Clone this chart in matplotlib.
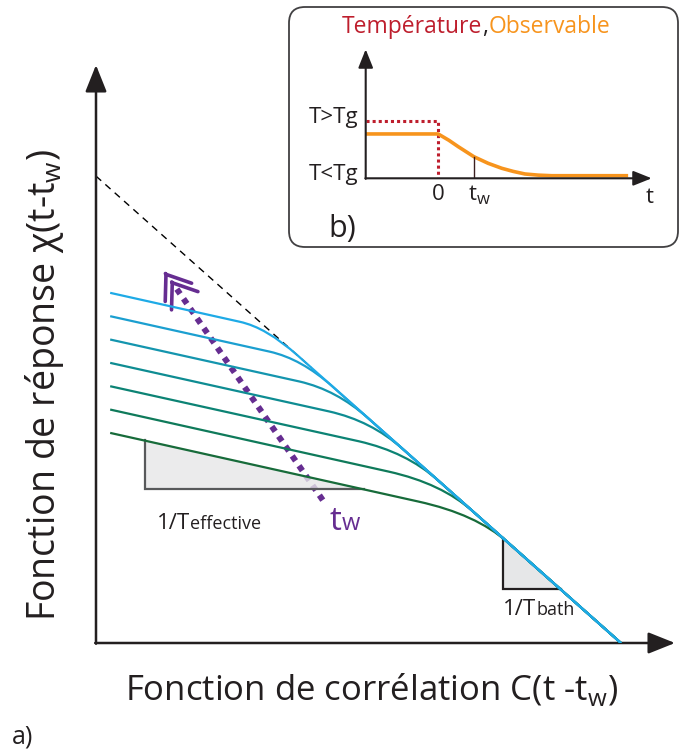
import matplotlib
matplotlib.use("Agg")
import matplotlib.pyplot as plt
from matplotlib.path import Path
from matplotlib.patches import PathPatch, Polygon, FancyBboxPatch

plt.rcParams['font.family'] = ['Open Sans', 'DejaVu Sans']
plt.rcParams['mathtext.fontset'] = 'custom'
plt.rcParams['mathtext.rm'] = 'Open Sans'

# --- main panel data (C on x, chi on y) ---
# each curve: start, knee in, corner, knee out, end
curves = [
    [(0.027, 0.75), (0.274, 0.688), (0.324, 0.676), (0.384, 0.616), (1.0, 0.0)],
    [(0.027, 0.70), (0.331, 0.624), (0.391, 0.609), (0.451, 0.549), (1.0, 0.0)],
    [(0.027, 0.65), (0.388, 0.560), (0.458, 0.542), (0.518, 0.482), (1.0, 0.0)],
    [(0.027, 0.60), (0.444, 0.496), (0.524, 0.476), (0.584, 0.416), (1.0, 0.0)],
    [(0.027, 0.55), (0.501, 0.432), (0.591, 0.409), (0.651, 0.349), (1.0, 0.0)],
    [(0.027, 0.50), (0.558, 0.367), (0.658, 0.342), (0.718, 0.282), (1.0, 0.0)],
    [(0.027, 0.45), (0.614, 0.303), (0.724, 0.276), (0.784, 0.216), (1.0, 0.0)],
]
curve_colors = ['#1EAAE6', '#1B9FD0', '#1495AE', '#0E8C92', '#0C8374', '#0F7A5A', '#176B3A']

fdt_C = [0.0, 0.41]
fdt_chi = [1.0, 0.59]

tri_eff_C = [0.093, 0.093, 0.51]
tri_eff_chi = [0.434, 0.33, 0.33]
tri_bath_C = [0.776, 0.776, 0.885]
tri_bath_chi = [0.224, 0.115, 0.115]

tw_arrow_C = [0.432, 0.154]
tw_arrow_chi = [0.306, 0.758]
chevron_C = [0.130, 0.142]
chevron_chi = [0.795, 0.777]

# --- inset data (t on x, temperature / observable on y) ---
temp_t = [-2.03, 0.0, 0.0]
temp_y = [1.0, 1.0, 0.0]
obs_t = [-2.03, 0.0, 0.3, 0.56, 1.0, 1.4, 1.78, 2.1, 2.43, 2.8, 3.18, 5.32]
obs_y = [0.77, 0.77, 0.66, 0.55, 0.375, 0.26, 0.174, 0.12, 0.075, 0.055, 0.045, 0.045]
tw_value = 1.0

W, H = 680, 749
fig = plt.figure(figsize=(W / 100, H / 100), dpi=100)

# background axes in pixel units for labels and the inset frame
bg = fig.add_axes([0, 0, 1, 1])
bg.set_xlim(0, W)
bg.set_ylim(H, 0)
bg.axis('off')

# main axes
ax = fig.add_axes([96 / W, (H - 643) / H, (675 - 96) / W, (643 - 65) / H])
ax.set_xlim(0, 1.103)
ax.set_ylim(0, 1.238)
ax.axis('off')

axis_arrow = dict(arrowstyle='-|>,head_length=0.75,head_width=0.3', lw=1.8,
                  color='#231F20', mutation_scale=22, shrinkA=0, shrinkB=0)
ax.annotate('', xy=(1.103, 0), xytext=(-0.0015, 0), arrowprops=axis_arrow,
            annotation_clip=False)
ax.annotate('', xy=(0, 1.238), xytext=(0, -0.0015), arrowprops=axis_arrow,
            annotation_clip=False)

ax.plot(fdt_C, fdt_chi, color='black', lw=1.0, dashes=(5, 4), zorder=1)

# purple t_w arrow
purple = '#662D91'
ax.plot(tw_arrow_C, tw_arrow_chi, color=purple, lw=4.3, dashes=(1, 1.0),
        solid_capstyle='butt', zorder=2)
dx = tw_arrow_C[1] - tw_arrow_C[0]
dy = tw_arrow_chi[1] - tw_arrow_chi[0]
for cx, cy in zip(chevron_C, chevron_chi):
    ax.annotate('', xy=(cx, cy), xytext=(cx - dx * 0.01, cy - dy * 0.01),
                arrowprops=dict(arrowstyle='->,head_length=0.75,head_width=0.55',
                                lw=2.6, color=purple, mutation_scale=21,
                                shrinkA=0, shrinkB=0),
                annotation_clip=False, zorder=2)

# slope triangles
ax.add_patch(Polygon(list(zip(tri_eff_C, tri_eff_chi)), closed=True,
                     facecolor='#E6E7E8', edgecolor='none', alpha=0.8, zorder=3))
ax.plot(tri_eff_C, tri_eff_chi, color='#58595B', lw=1.6, zorder=3,
        solid_joinstyle='miter')
ax.add_patch(Polygon(list(zip(tri_bath_C, tri_bath_chi)), closed=True,
                     facecolor='#E6E7E8', edgecolor='none', zorder=3))
ax.plot(tri_bath_C, tri_bath_chi, color='#231F20', lw=1.6, zorder=3,
        solid_joinstyle='miter')

# response curves, darkest first
codes = [Path.MOVETO, Path.LINETO, Path.CURVE3, Path.CURVE3, Path.LINETO]
for pts, col in reversed(list(zip(curves, curve_colors))):
    ax.add_patch(PathPatch(Path(pts, codes), facecolor='none', edgecolor=col,
                           lw=1.6, zorder=4, capstyle='butt'))

# labels of main panel
bg.text(372, 690, 'Fonction de corrélation C(t -t$_\\mathregular{w}$)',
        fontsize=25, ha='center', va='center', color='#231F20')
bg.text(45, 385, 'Fonction de réponse χ(t-t$_\\mathregular{w}$)',
        fontsize=27, ha='center', va='center', rotation=90, color='#231F20')
bg.text(12, 743, 'a)', fontsize=18, ha='left', va='baseline', color='#231F20')

t1 = bg.text(157, 529, '1/T', fontsize=16, ha='left', va='baseline', color='#231F20')
bg.annotate('effective', xy=(1, 529), xycoords=(t1, 'data'), fontsize=13,
            ha='left', va='baseline', color='#231F20')
t2 = bg.text(503, 615, '1/T', fontsize=16, ha='left', va='baseline', color='#231F20')
bg.annotate('bath', xy=(1, 615), xycoords=(t2, 'data'), fontsize=13,
            ha='left', va='baseline', color='#231F20')
t3 = bg.text(330, 530, 't', fontsize=24, ha='left', va='baseline', color=purple)
bg.annotate('w', xy=(1, 530), xycoords=(t3, 'data'), fontsize=17,
            ha='left', va='baseline', color=purple)

# --- inset b) ---
bg.add_patch(FancyBboxPatch((289, 7), 389, 240,
                            boxstyle='round,pad=0,rounding_size=16',
                            facecolor='white', edgecolor='#414042', lw=1.3, zorder=0))
red = '#BE1E2D'
orange = '#F7941D'
t4 = bg.text(342, 33, 'Température', fontsize=16.5, ha='left', va='baseline', color=red)
t5 = bg.annotate(',', xy=(1, 33), xycoords=(t4, 'data'), fontsize=16.5,
                 ha='left', va='baseline', color='#231F20')
bg.annotate('Observable', xy=(1, 33), xycoords=(t5, 'data'), fontsize=16.5,
            ha='left', va='baseline', color=orange)

ins = fig.add_axes([365.7 / W, (H - 178.3) / H, (651.7 - 365.7) / W, (178.3 - 49.3) / H])
ins.set_xlim(-2.03, 5.98)
ins.set_ylim(0, 2.24)
ins.axis('off')
small_arrow = dict(arrowstyle='-|>,head_length=0.75,head_width=0.3', lw=1.5,
                   color='#231F20', mutation_scale=15, shrinkA=0, shrinkB=0)
ins.annotate('', xy=(5.98, 0), xytext=(-2.04, 0), arrowprops=small_arrow,
             annotation_clip=False)
ins.annotate('', xy=(-2.03, 2.24), xytext=(-2.03, -0.01), arrowprops=small_arrow,
             annotation_clip=False)
ins.plot(temp_t, temp_y, color=red, lw=2.2, dashes=(1, 1), solid_capstyle='butt')
ins.plot(obs_t, obs_y, color=orange, lw=2.6, solid_joinstyle='round',
         solid_capstyle='butt')
ins.plot([tw_value, tw_value], [0.375, 0.03], color='#3B1F20', lw=1.0)

bg.text(358, 123, 'T>Tg', fontsize=16, ha='right', va='baseline', color='#231F20')
bg.text(358, 180, 'T<Tg', fontsize=16, ha='right', va='baseline', color='#231F20')
bg.text(438, 200, '0', fontsize=16, ha='center', va='baseline', color='#231F20')
t6 = bg.text(469, 200, 't', fontsize=16, ha='left', va='baseline', color='#231F20')
bg.annotate('w', xy=(1, 204), xycoords=(t6, 'data'), fontsize=12,
            ha='left', va='baseline', color='#231F20')
bg.text(650, 203, 't', fontsize=16, ha='center', va='baseline', color='#231F20')
bg.text(328, 237, 'b)', fontsize=22, ha='left', va='baseline', color='#231F20')

fig.savefig('out.png', dpi=100)
